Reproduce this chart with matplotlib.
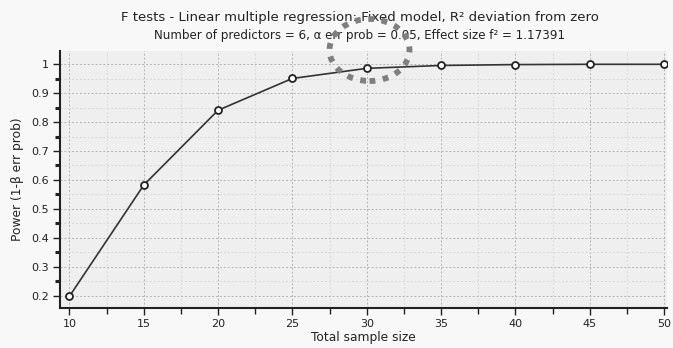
import numpy as np
import matplotlib.pyplot as plt
from matplotlib.patches import Ellipse
from matplotlib.ticker import MultipleLocator

sample_size = [10, 15, 20, 25, 30, 35, 40, 45, 50]
power = [0.197, 0.582, 0.841, 0.951, 0.986, 0.996, 0.999, 1.0, 1.0]

title = 'F tests - Linear multiple regression: Fixed model, R² deviation from zero'
subtitle = 'Number of predictors = 6, α err prob = 0.05, Effect size f² = 1.17391'

if __name__ == '__main__':
    fig = plt.figure(figsize=(6.73, 3.48), dpi=100, facecolor='#f8f8f8')
    ax = fig.add_axes([60 / 673, 1 - 308 / 348, 607 / 673, 257 / 348])
    ax.set_facecolor('#efefef')

    ax.plot(sample_size, power, color='#333333', lw=1.2, zorder=3,
            marker='o', markersize=5, markerfacecolor='white',
            markeredgecolor='#222222', markeredgewidth=1.3)

    ax.set_xlim(9.37, 50.2)
    ax.set_ylim(0.157, 1.046)
    ax.xaxis.set_major_locator(MultipleLocator(5))
    ax.xaxis.set_minor_locator(MultipleLocator(2.5))
    ax.yaxis.set_minor_locator(MultipleLocator(0.05))
    ax.set_yticks(np.arange(0.2, 1.01, 0.1))
    ax.set_yticklabels(['0.2', '0.3', '0.4', '0.5', '0.6', '0.7', '0.8', '0.9', '1'])

    ax.grid(which='major', color='#b4b4b4', linestyle=(0, (2, 2)), lw=0.7)
    ax.grid(which='minor', color='#dadada', linestyle=(0, (2, 2)), lw=0.7)
    ax.tick_params(which='major', direction='out', length=5, width=1, labelsize=8,
                   colors='#222222', pad=3)
    ax.tick_params(axis='y', which='minor', direction='out', length=3.5, width=2.2, color='#222222')
    ax.tick_params(axis='x', which='minor', direction='out', length=4, width=1, color='#222222')
    for s in ['top', 'right']:
        ax.spines[s].set_visible(False)
    for s in ['left', 'bottom']:
        ax.spines[s].set_linewidth(1.5)
        ax.spines[s].set_color('#222222')

    ax.set_xlabel('Total sample size', fontsize=8.8, labelpad=1, color='#222222')
    ax.set_ylabel('Power (1-β err prob)', fontsize=8.8, labelpad=5, color='#222222')

    fig.text(360 / 673, 1 - 18 / 348, title, ha='center', va='center', fontsize=9.5, color='#222222')
    fig.text(360 / 673, 1 - 36 / 348, subtitle, ha='center', va='center', fontsize=8.6, color='#222222')

    # loading spinner overlay
    spinner = Ellipse((369.5 / 673, 1 - 50 / 348), 80 / 673, 62 / 348, transform=fig.transFigure,
                      fill=False, edgecolor='#7f7f7f', lw=4.2, linestyle=(0, (1, 1.3)), zorder=10)
    fig.patches.append(spinner)

    fig.savefig('out.png', dpi=100, facecolor=fig.get_facecolor())
